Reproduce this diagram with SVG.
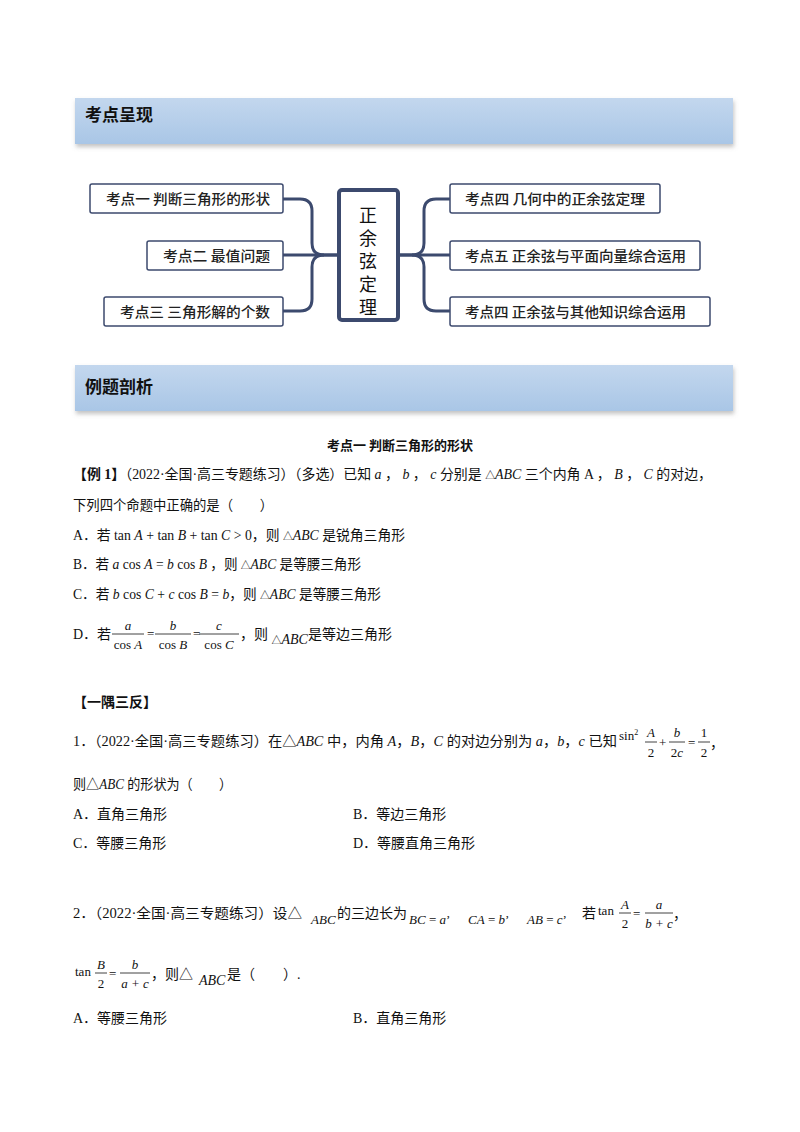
<svg xmlns="http://www.w3.org/2000/svg" width="800" height="1132" viewBox="0 0 800 1132">
<defs>
<linearGradient id="hg" x1="0" y1="0" x2="0" y2="1"><stop offset="0" stop-color="#c3d7ee"/><stop offset="1" stop-color="#a9c6e6"/></linearGradient>
<filter id="sh" x="-5%" y="-20%" width="110%" height="150%"><feDropShadow dx="1" dy="3" stdDeviation="2" flood-color="#888" flood-opacity="0.5"/></filter>
</defs>
<style>
text{font-family:"Liberation Serif","Noto Sans CJK SC",serif;fill:#111}
.h{font-family:"Noto Sans CJK SC",sans-serif;font-weight:bold;font-size:17px}
.bx{fill:#fff;stroke:#3c4a6e;stroke-width:1.5}
.bt{font-family:"Noto Sans CJK SC",sans-serif;font-size:14px;font-weight:500;fill:#222}
.cn{fill:none;stroke:#3c4a6e;stroke-width:3}
.t{font-size:14px}
.i{font-style:italic}
.b{font-weight:bold}
.s{font-size:10px}
.f{font-size:13px}
.ln{stroke:#111;stroke-width:0.8}
</style>
<rect x="75" y="98" width="658" height="46" fill="url(#hg)" filter="url(#sh)"/>
<text class="h" x="85" y="121">考点呈现</text>
<rect x="75" y="365" width="658" height="46" fill="url(#hg)" filter="url(#sh)"/>
<text class="h" x="85" y="393">例题剖析</text>

<g id="connectors">
<path class="cn" d="M283 199 H300 Q312 199 312 211 V243 Q312 255 324 255 H338"/>
<path class="cn" d="M283 255 H338"/>
<path class="cn" d="M283 311 H300 Q312 311 312 299 V267 Q312 255 324 255"/>
<path class="cn" d="M398 255 H412 Q424 255 424 243 V211 Q424 199 436 199 H450"/>
<path class="cn" d="M398 255 H450"/>
<path class="cn" d="M412 255 Q424 255 424 267 V299 Q424 311 436 311 H450"/>
</g>
<g id="center"><rect x="339" y="190" width="59" height="130" rx="3" fill="#fff" stroke="#3c4a6e" stroke-width="4"/>
<g font-size="18" text-anchor="middle" style="font-family:'Noto Sans CJK SC',serif">
<text x="368" y="222">正</text><text x="368" y="245">余</text><text x="368" y="268">弦</text><text x="368" y="291">定</text><text x="368" y="314">理</text></g></g>
<g id="n1"><rect class="bx" x="90" y="184" width="193" height="29" rx="2"/><text class="bt" x="106" y="204" textLength="164" lengthAdjust="spacingAndGlyphs">考点一  判断三角形的形状</text></g>
<g id="n2"><rect class="bx" x="147" y="241" width="136" height="29" rx="2"/><text class="bt" x="163" y="261" textLength="107" lengthAdjust="spacingAndGlyphs">考点二  最值问题</text></g>
<g id="n3"><rect class="bx" x="104" y="297" width="179" height="29" rx="2"/><text class="bt" x="120" y="317" textLength="150" lengthAdjust="spacingAndGlyphs">考点三  三角形解的个数</text></g>
<g id="n4"><rect class="bx" x="450" y="184" width="210" height="29" rx="2"/><text class="bt" x="465" y="204" textLength="180" lengthAdjust="spacingAndGlyphs">考点四  几何中的正余弦定理</text></g>
<g id="n5"><rect class="bx" x="450" y="241" width="250" height="29" rx="2"/><text class="bt" x="465" y="261" textLength="221" lengthAdjust="spacingAndGlyphs">考点五  正余弦与平面向量综合运用</text></g>
<g id="n6"><rect class="bx" x="450" y="297" width="260" height="29" rx="2"/><text class="bt" x="465" y="317" textLength="221" lengthAdjust="spacingAndGlyphs">考点四  正余弦与其他知识综合运用</text></g>

<text x="400" y="450" text-anchor="middle" font-size="13" font-weight="bold" style="font-family:'Noto Sans CJK SC',sans-serif">考点一  判断三角形的形状</text>
<text class="t" x="73" y="479" textLength="639" lengthAdjust="spacingAndGlyphs"><tspan class="b">【例 1】</tspan>（2022·全国·高三专题练习）（多选）已知 <tspan class="i">a</tspan> ， <tspan class="i">b</tspan> ， <tspan class="i">c</tspan> 分别是 <tspan class="s">△</tspan><tspan class="i">ABC</tspan> 三个内角 A ， <tspan class="i">B</tspan> ， <tspan class="i">C</tspan> 的对边，</text>
<text class="t" x="73" y="510" textLength="200" lengthAdjust="spacingAndGlyphs">下列四个命题中正确的是（　　）</text>
<text class="t" x="73" y="540" textLength="332" lengthAdjust="spacingAndGlyphs">A．若 tan <tspan class="i">A</tspan> + tan <tspan class="i">B</tspan> + tan <tspan class="i">C</tspan> &gt; 0，则 <tspan class="s">△</tspan><tspan class="i">ABC</tspan> 是锐角三角形</text>
<text class="t" x="73" y="569" textLength="288" lengthAdjust="spacingAndGlyphs">B．若 <tspan class="i">a</tspan> cos <tspan class="i">A</tspan> = <tspan class="i">b</tspan> cos <tspan class="i">B</tspan> ，则 <tspan class="s">△</tspan><tspan class="i">ABC</tspan> 是等腰三角形</text>
<text class="t" x="73" y="599" textLength="308" lengthAdjust="spacingAndGlyphs">C．若 <tspan class="i">b</tspan> cos <tspan class="i">C</tspan> + <tspan class="i">c</tspan> cos <tspan class="i">B</tspan> = <tspan class="i">b</tspan>，则 <tspan class="s">△</tspan><tspan class="i">ABC</tspan> 是等腰三角形</text>
<text class="t" x="73" y="639">D．若</text>
<text class="i f" x="128" y="630" text-anchor="middle">a</text><line class="ln" x1="112" y1="634" x2="144" y2="634"/><text class="f" x="128" y="649" text-anchor="middle">cos <tspan class="i">A</tspan></text>
<text class="f" x="147" y="638">=</text>
<text class="i f" x="173" y="630" text-anchor="middle">b</text><line class="ln" x1="155" y1="634" x2="191" y2="634"/><text class="f" x="173" y="649" text-anchor="middle">cos <tspan class="i">B</tspan></text>
<text class="f" x="193" y="638">=</text>
<text class="i f" x="219" y="630" text-anchor="middle">c</text><line class="ln" x1="199" y1="634" x2="239" y2="634"/><text class="f" x="219" y="649" text-anchor="middle">cos <tspan class="i">C</tspan></text>
<text class="t" x="240" y="639">，则 <tspan class="s" dy="5">△</tspan><tspan class="i">ABC</tspan><tspan dy="-5">是等边三角形</tspan></text>

<text class="t b" x="73" y="707" style="font-family:'Noto Sans CJK SC',sans-serif" font-size="13">【一隅三反】</text>
<text class="t" x="73" y="746" textLength="544" lengthAdjust="spacingAndGlyphs">1．（2022·全国·高三专题练习）在△<tspan class="i">ABC</tspan> 中，内角 <tspan class="i">A</tspan>，<tspan class="i">B</tspan>，<tspan class="i">C</tspan> 的对边分别为 <tspan class="i">a</tspan>，<tspan class="i">b</tspan>，<tspan class="i">c</tspan> 已知</text>
<text class="f" x="619" y="740">sin<tspan font-size="8" dy="-5">2</tspan></text>
<text class="i f" x="651" y="737" text-anchor="middle">A</text><line class="ln" x1="645" y1="742" x2="657" y2="742"/><text class="f" x="651" y="757" text-anchor="middle">2</text>
<text class="f" x="659" y="747">+</text>
<text class="i f" x="677" y="737" text-anchor="middle">b</text><line class="ln" x1="669" y1="742" x2="685" y2="742"/><text class="f" x="677" y="757" text-anchor="middle">2<tspan class="i">c</tspan></text>
<text class="f" x="688" y="747">=</text>
<text class="f" x="704" y="737" text-anchor="middle">1</text><line class="ln" x1="698" y1="742" x2="710" y2="742"/><text class="f" x="704" y="757" text-anchor="middle">2</text>
<text class="t" x="710" y="748">，</text>
<text class="t" x="73" y="789" textLength="159" lengthAdjust="spacingAndGlyphs">则△<tspan class="i">ABC</tspan> 的形状为（　　）</text>
<text class="t" x="73" y="819">A．直角三角形</text><text class="t" x="353" y="819">B．等边三角形</text>
<text class="t" x="73" y="848">C．等腰三角形</text><text class="t" x="353" y="848">D．等腰直角三角形</text>
<text class="t" x="73" y="918" textLength="229" lengthAdjust="spacingAndGlyphs">2．（2022·全国·高三专题练习）设△</text>
<text class="f i" x="311" y="924">ABC</text>
<text class="t" x="337" y="918">的三边长为</text>
<text class="f" x="409" y="924"><tspan class="i">BC</tspan> = <tspan class="i">a</tspan>’</text>
<text class="f" x="468" y="924"><tspan class="i">CA</tspan> = <tspan class="i">b</tspan>’</text>
<text class="f" x="527" y="924"><tspan class="i">AB</tspan> = <tspan class="i">c</tspan>’</text>
<text class="t" x="582" y="918">若</text>
<text class="f" x="598" y="915">tan</text>
<text class="i f" x="625" y="909" text-anchor="middle">A</text><line class="ln" x1="619" y1="913" x2="631" y2="913"/><text class="f" x="625" y="928" text-anchor="middle">2</text>
<text class="f" x="633" y="918">=</text>
<text class="i f" x="659" y="909" text-anchor="middle">a</text><line class="ln" x1="645" y1="913" x2="673" y2="913"/><text class="i f" x="659" y="928" text-anchor="middle">b + c</text>
<text class="t" x="673" y="919">，</text>
<text class="f" x="75" y="976">tan</text>
<text class="i f" x="101" y="969" text-anchor="middle">B</text><line class="ln" x1="95" y1="973" x2="107" y2="973"/><text class="f" x="101" y="988" text-anchor="middle">2</text>
<text class="f" x="109" y="978">=</text>
<text class="i f" x="135" y="969" text-anchor="middle">b</text><line class="ln" x1="120" y1="973" x2="150" y2="973"/><text class="i f" x="135" y="988" text-anchor="middle">a + c</text>
<text class="t" x="151" y="979">，则△</text>
<text class="t i" x="199" y="985">ABC</text>
<text class="t" x="227" y="979">是（　　）.</text>
<text class="t" x="73" y="1023">A．等腰三角形</text><text class="t" x="353" y="1023">B．直角三角形</text>
</svg>
